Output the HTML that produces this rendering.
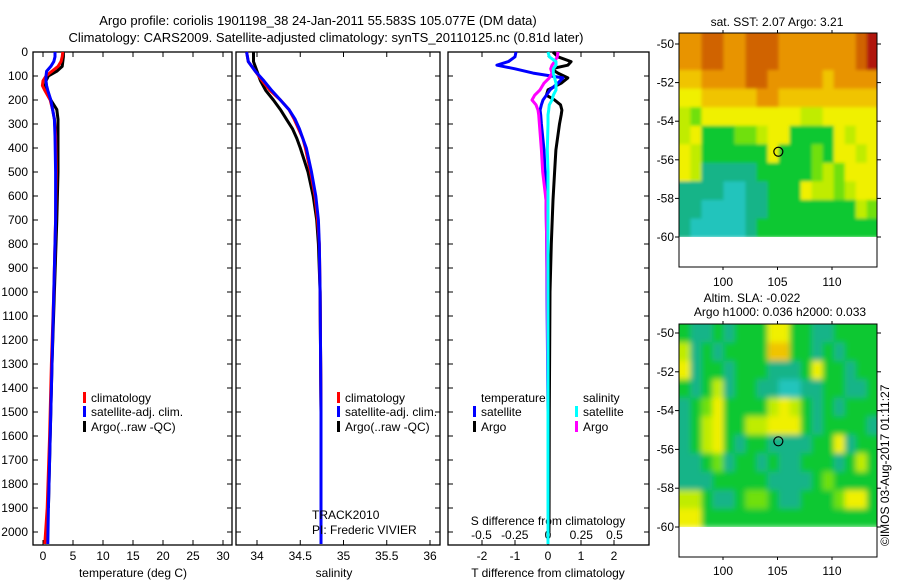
<!DOCTYPE html>
<html><head><meta charset="utf-8"><style>
html,body{margin:0;padding:0;background:#fff;}
svg{display:block;font-family:"Liberation Sans",sans-serif;}
</style></head><body>
<svg id="fig" width="900" height="580" viewBox="0 0 900 580" xmlns="http://www.w3.org/2000/svg">
<defs>
<filter id="blurSst" x="-5%" y="-5%" width="110%" height="110%"><feGaussianBlur stdDeviation="1.5"/></filter>
<filter id="blurSla" x="-5%" y="-5%" width="110%" height="110%"><feGaussianBlur stdDeviation="3"/></filter>
<clipPath id="clipSst"><rect x="679" y="33" width="198" height="204"/></clipPath>
<clipPath id="clipSla"><rect x="679" y="324" width="198" height="203"/></clipPath>
</defs>
<rect x="0" y="0" width="900" height="580" fill="#fff"/>
<text x="318" y="25" font-size="13" text-anchor="middle">Argo profile: coriolis 1901198_38 24-Jan-2011 55.583S 105.077E (DM data)</text>
<text x="326" y="42" font-size="13" text-anchor="middle">Climatology: CARS2009. Satellite-adjusted climatology: synTS_20110125.nc (0.81d later)</text>
<g id="g"></g>
</svg>
<script>
// ---- data ----
const depthTicks=[0,100,200,300,400,500,600,700,800,900,1000,1100,1200,1300,1400,1500,1600,1700,1800,1900,2000];
const tempTicks=[0,5,10,15,20,25,30];
const salTicks=[34,34.5,35,35.5,36];
const salTickLabels=["34","34.5","35","35.5","36"];
const tdiffTicks=[-2,-1,0,1,2];
const sdiffTicks=[-0.5,-0.25,0,0.25,0.5];
const sdiffLabels=["-0.5","-0.25","0","0.25","0.5"];

const tempDepth=[0,20,40,60,80,100,120,140,160,200,240,280,350,500,700,1000,1300,1600,1900,2050];
const tempClim=[3.3,3.2,3.0,2.5,1.5,0.5,0.0,-0.1,0.3,1.2,1.6,1.9,2.1,2.2,2.1,1.8,1.4,1.1,0.7,0.3];
const tempSat=[2.0,2.0,1.8,1.3,0.6,0.5,0.5,0.6,0.8,1.3,1.6,1.9,2.0,2.1,2.1,1.8,1.5,1.2,0.9,0.8];
const tempArgo=[3.4,3.4,3.3,3.2,2.3,0.9,0.5,0.4,0.6,1.3,2.3,2.5,2.5,2.5,2.3,1.9,1.5,1.2,0.9,null];

const salDepth=[0,40,80,120,160,200,240,280,320,360,400,500,600,700,800,1000,1500,2000,2050];
const salClim=[33.88,33.9,33.98,34.06,34.15,34.27,34.37,34.43,34.48,34.53,34.56,34.62,34.67,34.70,34.72,34.73,34.74,34.74,34.74];
const salSat=[33.88,33.9,33.98,34.08,34.17,34.27,34.37,34.44,34.49,34.53,34.57,34.63,34.68,34.71,34.72,34.73,34.74,34.74,34.74];
const salArgo=[33.96,33.96,34.0,34.04,34.1,34.19,34.27,34.34,34.41,34.46,34.5,34.59,34.65,34.69,34.71,34.73,34.74,34.74,null];

const diffDepth=[0,20,40,55,70,88,108,130,158,180,200,220,242,262,300,408,500,617,800,1000,1500,2000,2050];
const tSatDiff=[-0.97,-1.0,-1.2,-1.55,-1.0,-0.45,0.45,0.3,0.06,-0.05,-0.15,-0.2,-0.24,-0.22,-0.2,-0.12,-0.09,-0.06,-0.04,-0.03,0,0,0];
const tArgoDiff=[0.15,0.3,0.7,0.6,0.1,0.3,0.6,0.4,0.0,-0.05,0.2,0.38,0.42,0.4,0.35,0.24,0.2,0.15,0.1,0.06,0.04,0.03,null];
const sArgoDiff=[0.075,0.07,0.05,0.03,0.02,0.03,0.01,-0.03,-0.06,-0.1,-0.12,-0.09,-0.075,-0.07,-0.065,-0.05,-0.04,-0.015,-0.01,-0.005,0,0,null];
const sSatDiff=[0,0.01,0.06,0.06,0.04,0.04,0.05,0.06,0.06,0.04,0.03,0.01,0.005,0,0,-0.005,0,0,0,0,0,0,0];

const mapLonTicks=[100,105,110];
const mapLatTicks=[-50,-52,-54,-56,-58,-60];
const sstGrid=[
"778877888777777789",
"778877888777777789",
"667777887777767777",
"556666677666666666",
"435555555554455555",
"452223345522225455",
"542222225222325545",
"541111122222343555",
"111100112225443455",
"110000112222222243",
"100000122222222222"];
const slaGrid=[
"211212225522112222",
"412122226622121222",
"512212221112522122",
"212412211001122112",
"123522224542121222",
"124522445552122221",
"124521221111225122",
"112312212112221242",
"111222221111232222",
"442112332112223552",
"552222222222222222"];
const palette=["#20c4bc","#12b488","#10c830","#70e010","#c0ec00","#f0f000","#f0c400","#e89400","#d06400","#b01808"];
const argoLon=105.077, argoLat=-55.583;

// ---- helpers ----
const NS="http://www.w3.org/2000/svg";
const G=document.getElementById('g');
function mk(tag,a,parent){const e=document.createElementNS(NS,tag);for(const k in a)e.setAttribute(k,a[k]);(parent||G).appendChild(e);return e;}
function txt(x,y,s,size,anchor,parent){const e=mk('text',{x:x,y:y,'font-size':size||12,'text-anchor':anchor||'middle'},parent);e.textContent=s;return e;}
const TOP=52, BOT=545;
const yD=d=>TOP+0.24*d;

function panel(x0,x1,name,xTicks,xScale,xLabels,labelY){
  const r=mk('rect',{x:x0,y:TOP,width:x1-x0,height:BOT-TOP,fill:'none',stroke:'#000','stroke-width':1.3});
  
  
  depthTicks.forEach(d=>{
    mk('line',{x1:x0,x2:x0+5,y1:yD(d),y2:yD(d),stroke:'#000'});
    mk('line',{x1:x1-5,x2:x1,y1:yD(d),y2:yD(d),stroke:'#000'});
  });
  xTicks.forEach((v,i)=>{
    const x=xScale(v);
    mk('line',{x1:x,x2:x,y1:TOP,y2:TOP+5,stroke:'#000'});
    mk('line',{x1:x,x2:x,y1:BOT-5,y2:BOT,stroke:'#000'});
    const t=txt(x,labelY,xLabels[i],12);
    
    
  });
}
function series(depths,vals,xs,color,name,w){
  let d='';let pen=false;
  vals.forEach((v,i)=>{ if(v===null){pen=false;return;} d+=(pen?'L':'M')+xs(v).toFixed(1)+','+yD(depths[i]).toFixed(1); pen=true;});
  const p=mk('path',{d:d,fill:'none',stroke:color,'stroke-width':w||3,'stroke-linejoin':'round'});
  
  
}
function legendItem(x,y,color,label,name){
  mk('rect',{x:x,y:y-10,width:3,height:11,fill:color});
  const t=txt(x+8,y,label,12,'start');
  
  
}

// depth labels
depthTicks.forEach(d=>{
  const t=txt(28,yD(d)+4,String(d),12,'end');
  
  
});

// panel 1 temperature
const xT=v=>43+6*v;
panel(33,232,'temperature-panel',tempTicks,xT,tempTicks.map(String),560);
series(tempDepth,tempArgo,xT,'#000','temperature-argo-line');
series(tempDepth,tempClim,xT,'#f00','temperature-climatology-line');
series(tempDepth,tempSat,xT,'#00f','temperature-satellite-line');
let t=txt(133,577,'temperature (deg C)',12);


legendItem(83,402,'#f00','climatology','temp-legend-climatology');
legendItem(83,416,'#00f','satellite-adj. clim.','temp-legend-satellite');
legendItem(83,431,'#000','Argo(..raw -QC)','temp-legend-argo');

// panel 2 salinity
const xS=v=>257+86.5*(v-34);
panel(236,440,'salinity-panel',salTicks,xS,salTickLabels,560);
series(salDepth,salArgo,xS,'#000','salinity-argo-line');
series(salDepth,salClim,xS,'#f00','salinity-climatology-line');
series(salDepth,salSat,xS,'#00f','salinity-satellite-line');
t=txt(334,577,'salinity',12);


legendItem(337,402,'#f00','climatology','sal-legend-climatology');
legendItem(337,416,'#00f','satellite-adj. clim.','sal-legend-satellite');
legendItem(337,431,'#000','Argo(..raw -QC)','sal-legend-argo');
t=txt(312,519,'TRACK2010',12,'start');


t=txt(312,534,'PI: Frederic VIVIER',12,'start');



// panel 3 differences
const xTd=v=>548+33*v;
const xSd=v=>548+133*v;
panel(448,649,'difference-panel',tdiffTicks,xTd,tdiffTicks.map(String),560);
sdiffTicks.forEach((v,i)=>{
  const tt=txt(xSd(v),539,sdiffLabels[i],12);
  
  
});
t=txt(548,525,'S difference from climatology',12);


t=txt(548,577,'T difference from climatology',12);


series(diffDepth,tArgoDiff,xTd,'#000','t-argo-diff-line');
series(diffDepth,tSatDiff,xTd,'#00f','t-satellite-diff-line');
series(diffDepth,sArgoDiff,xSd,'#f0f','s-argo-diff-line');
series(diffDepth,sSatDiff,xSd,'#0ff','s-satellite-diff-line');
t=txt(481,402,'temperature',12,'start');


t=txt(583,402,'salinity',12,'start');


legendItem(473,416,'#00f','satellite','diff-legend-t-satellite');
legendItem(473,431,'#000','Argo','diff-legend-t-argo');
legendItem(575,416,'#0ff','satellite','diff-legend-s-satellite');
legendItem(575,431,'#f0f','Argo','diff-legend-s-argo');

// maps
function map(top,lat50y,lat60y,boxBot,grid,name,labelY,filterId,clipId){
  const x0=679,x1=877;
  const lonX=v=>723+10.9*(v-100);
  const latY=v=>lat50y+(lat60y-lat50y)*(-50-v)/10;
  const rows=grid.length, cols=grid[0].length;
  const lonStep=(114.2-96)/cols;
  const latTop=-50-(top-lat50y)/((lat60y-lat50y)/10);
  const latStep=(-60-latTop)/rows;
  const clipG=mk('g',{'clip-path':'url(#'+clipId+')'});
  const cg=mk('g',{filter:'url(#'+filterId+')'},clipG);
  
  
  grid.forEach((row,r)=>{
    for(let c=0;c<cols;c++){
      let xa=lonX(96+c*lonStep), xb=lonX(96+(c+1)*lonStep);
      let ya=latY(latTop+r*latStep), yb=latY(latTop+(r+1)*latStep);
      if(c===0) xa-=8; if(c===cols-1) xb+=8; if(r===0) ya-=8;
      const cell=mk('rect',{x:xa.toFixed(2),y:ya.toFixed(2),width:(xb-xa+0.6).toFixed(2),height:(yb-ya+0.6).toFixed(2),fill:palette[+row[c]]},cg);
      
      
    }
  });
  const f=mk('rect',{x:x0,y:top,width:x1-x0,height:boxBot-top,fill:'none',stroke:'#000','stroke-width':1});
  
  
  mapLatTicks.forEach(v=>{
    const y=latY(v);
    mk('line',{x1:x0-4,x2:x0,y1:y,y2:y,stroke:'#000'});
    mk('line',{x1:x1,x2:x1+4,y1:y,y2:y,stroke:'#000'});
    const tt=txt(x0-5,y+4,String(v),12,'end');
    
    
  });
  mapLonTicks.forEach(v=>{
    const x=lonX(v);
    mk('line',{x1:x,x2:x,y1:top-3,y2:top,stroke:'#000'});
    mk('line',{x1:x,x2:x,y1:boxBot,y2:boxBot+3,stroke:'#000'});
    const tt=txt(x,labelY,String(v),12);
    
    
  });
  const m=mk('circle',{cx:lonX(argoLon),cy:latY(argoLat),r:4.5,fill:'none',stroke:'#000','stroke-width':1.2});
  
  
}
map(33,44,237,267,sstGrid,'sst-map',286,'blurSst','clipSst');
map(324,333,527,557,slaGrid,'sla-map',575,'blurSla','clipSla');
t=txt(777,26,'sat. SST: 2.07 Argo: 3.21',12);


t=txt(752,302,'Altim. SLA: -0.022',12);


t=txt(780,316,'Argo h1000: 0.036 h2000: 0.033',12);


t=txt(0,0,'©IMOS 03-Aug-2017 01:11:27',12,'start');
t.setAttribute('transform','translate(889,546) rotate(-90)');


</script>
</body></html>
